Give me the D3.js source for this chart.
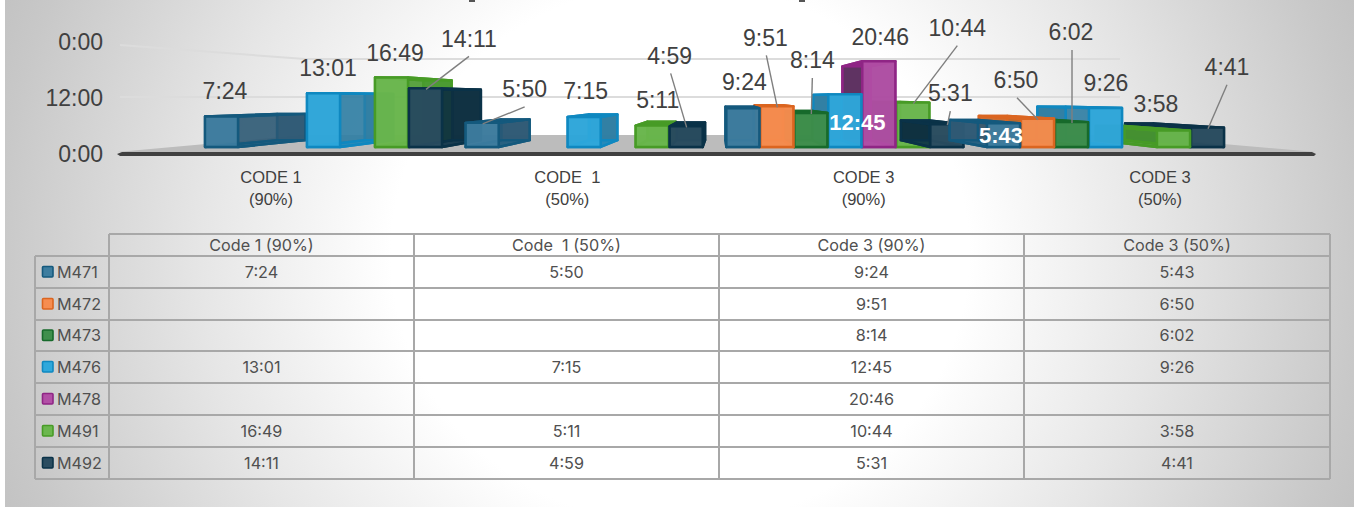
<!DOCTYPE html>
<html><head><meta charset="utf-8">
<script src="https://cdn.jsdelivr.net/npm/d3@7"></script>
<style>html,body{margin:0;padding:0;background:#fff;overflow:hidden}svg{display:block}</style>
</head><body><svg id="c" width="1354" height="508"></svg>
<script>
const groups = ["CODE 1|(90%)", "CODE  1|(50%)", "CODE 3|(90%)", "CODE 3|(50%)"];
const tableHeads = ["Code 1 (90%)", "Code  1 (50%)", "Code 3 (90%)", "Code 3 (50%)"];
const seriesNames = ["M471", "M472", "M473", "M476", "M478", "M491", "M492"];
const M471 = ["7:24", "5:50", "9:24", "5:43"];
const M472 = ["", "", "9:51", "6:50"];
const M473 = ["", "", "8:14", "6:02"];
const M476 = ["13:01", "7:15", "12:45", "9:26"];
const M478 = ["", "", "20:46", ""];
const M491 = ["16:49", "5:11", "10:44", "3:58"];
const M492 = ["14:11", "4:59", "5:31", "4:41"];
const seriesValues = [M471, M472, M473, M476, M478, M491, M492];
const axisTicks = [0, 12, 24];
const axisTickLabels = ["0:00", "12:00", "0:00"];

// styling (front fill, edge, side shade)
const fronts = ["#3d7d9f", "#f68d50", "#3f8f4c", "#2ea8dc", "#b24fa6", "#6bb74e", "#2a4c60"];
const edges = ["#14597d", "#db6520", "#176a2b", "#0f88c0", "#8f2585", "#479b26", "#0a3248"];
const sides = ["#2f5a75", "#cf6a2c", "#1f7430", "#2f7ea3", "#5c3060", "#4a9a30", "#0e2f40"];
// manual data-label offsets from each bar's top centre, per series then group
const labelOffsets = [
  [[3,-26],[42,-34],[1,-26],[-3,12]],
  [null,null,[-12,-69],[-22,-39]],
  [null,null,[1,-53],[-1,-90]],
  [[4,-26],[1,-26],[12,28],[0,-25]],
  [null,null,[1,-25],null],
  [[3,-25],[5,-26],[44,-75],[-18,-27]],
  [[43,-50],[-17,-71],[3,-31],[19,-61]]
];
const whiteLabels = ["12:45", "5:43"];
// painter's order of series indices within each group
const drawOrder = [[0,1,2,3,4,5,6],[0,1,2,3,4,5,6],[5,6,4,3,2,1,0],[6,5,4,3,2,1,0]];

const toHours = s => { const [h, m] = s.split(":").map(Number); return h + m / 60; };
const svg = d3.select("#c");
const W = 1354, H = 508;
const LABEL_FONT = "'Liberation Sans', Arial, sans-serif";
const TABLE_FONT = "'Inter', 'Open Sans', sans-serif";
const TXT = "#404040";

// background
const defs = svg.append("defs");
const rg = defs.append("radialGradient").attr("id", "bg").attr("gradientUnits", "userSpaceOnUse")
  .attr("cx", 680).attr("cy", 254).attr("r", 1)
  .attr("gradientTransform", "translate(680 254) scale(760 715) translate(-680 -254)");
[[0.0,"#ffffff"],[0.38,"#ffffff"],[0.63,"#e6e6e6"],[0.9,"#c8c8c8"],[1,"#bfbfbf"]].forEach(([o,c]) =>
  rg.append("stop").attr("offset", o).attr("stop-color", c));
svg.append("rect").attr("x", 5).attr("y", 0).attr("width", W - 5).attr("height", H - 1).attr("fill", "url(#bg)");

// clipped remains of the cropped title
svg.append("g").selectAll("rect").data([469, 799]).join("rect")
  .attr("x", d => d).attr("y", 0).attr("width", 6).attr("height", 2).attr("fill", "#555");

// scales
const xGroup = d3.scaleBand().domain(d3.range(4)).range([205, 1225]).paddingInner(0.087);
const xSeries = d3.scaleBand().domain(d3.range(7)).range([0, xGroup.bandwidth()]);
const xLabel = d3.scalePoint().domain(d3.range(4)).range([271, 1160]);
const y = d3.scaleLinear().domain([0, 24]).range([147, 147 - 24 * 4.13]);
const yAxis = d3.scaleLinear().domain([0, 24]).range([154, 42]);
const yWall = d3.scaleLinear().domain([0, 24]).range([135, 59]);
const yWallFront = d3.scaleLinear().domain([0, 24]).range([150, 45]);

// perspective projection toward the vanishing point
const VX = 720, VY = 98, S = 0.86;
const back = ([px, py]) => [VX + (px - VX) * S, VY + (py - VY) * S];

// walls & floor
const wall = svg.append("g");
[12, 24].forEach(t => {
  wall.append("path").attr("fill", "none").attr("stroke", "#dcdcdc").attr("stroke-width", 2)
    .attr("d", d3.line()([[120, t === 24 ? yWallFront(t) : yWall(t)], [305, yWall(t)], [1120, yWall(t)]]));
});
svg.append("path").attr("fill", "#bcbcbc").attr("d", d3.line()([[117, 152], [305, 135], [1120, 135], [1316, 152]]) + "Z");
svg.append("path").attr("fill", "#404040").attr("d", d3.line()([[117, 154], [122, 152], [1312, 152], [1316, 154], [1314, 156], [120, 156]]) + "Z");

// axis labels
svg.append("g").selectAll("text").data(axisTicks).join("text")
  .attr("x", 103).attr("y", d => yAxis(d)).attr("dy", "0.36em").attr("text-anchor", "end")
  .attr("font-family", LABEL_FONT).attr("font-size", 23).attr("fill", TXT)
  .text((d, i) => axisTickLabels[i]);

// category labels
const cat = svg.append("g").selectAll("text").data(groups).join("text")
  .attr("text-anchor", "middle").attr("font-family", LABEL_FONT).attr("font-size", 16.5).attr("fill", TXT);
cat.each(function (d, i) {
  const parts = d.split("|");
  d3.select(this).selectAll("tspan").data(parts).join("tspan")
    .attr("x", xLabel(i)).attr("y", (p, k) => 183 + k * 22).style("white-space", "pre").text(p => p);
});

// bars
const bars = svg.append("g");
const leaders = svg.append("g");
const labels = svg.append("g");
const poly = pts => d3.line()(pts) + "Z";
function drawBar(g, s) {
  const txt = seriesValues[s][g];
  if (!txt) return;
  const v = toHours(txt);
  const x0 = xGroup(g) + xSeries(s), x1 = x0 + xSeries.bandwidth() - 1;
  const t = y(v), b = y(0);
  const fTL = [x0, t], fTR = [x1, t], fBL = [x0, b], fBR = [x1, b];
  const [bTL, bTR, bBL, bBR] = [fTL, fTR, fBL, fBR].map(back);
  const el = bars.append("g").attr("stroke", edges[s]).attr("stroke-width", 2.4).attr("stroke-linejoin", "round");
  el.append("path").attr("d", poly([bTL, bTR, bBR, bBL])).attr("fill", sides[s]).attr("fill-opacity", 0.95);
  el.append("path").attr("d", poly([fTL, bTL, bBL, fBL])).attr("fill", sides[s]).attr("fill-opacity", 0.7);
  el.append("path").attr("d", poly([fTR, bTR, bBR, fBR])).attr("fill", sides[s]).attr("fill-opacity", 0.7);
  el.append("path").attr("d", poly([fTL, fTR, bTR, bTL])).attr("fill", edges[s]);
  el.append("path").attr("d", poly([fBL, fBR, bBR, bBL])).attr("fill", edges[s]).attr("fill-opacity", 0.7);
  el.append("path").attr("d", poly([fTL, fTR, fBR, fBL])).attr("fill", fronts[s]).attr("fill-opacity", 0.93);
}
drawOrder.forEach((ord, g) => ord.forEach(s => drawBar(g, s)));

// data labels and leader lines
seriesValues.forEach((vals, s) => vals.forEach((txt, g) => {
  if (!txt) return;
  const off = labelOffsets[s][g];
  const cx = xGroup(g) + xSeries(s) + xSeries.bandwidth() / 2;
  const top = y(toHours(txt));
  const lx = cx + off[0], ly = top + off[1];
  const white = whiteLabels.includes(txt);
  if (off[1] < -28) {
    leaders.append("line").attr("x1", lx + (off[0] > 0 ? 0 : 1)).attr("y1", ly + 18).attr("x2", cx).attr("y2", top + 1)
      .attr("stroke", "#7f7f7f").attr("stroke-width", 1.4);
  }
  labels.append("text").attr("x", lx).attr("y", ly).attr("dy", "0.36em").attr("text-anchor", "middle")
    .attr("font-family", LABEL_FONT).attr("font-size", white ? 22 : 23)
    .attr("font-weight", white ? "bold" : "normal").attr("fill", white ? "#fff" : TXT).text(txt);
}));

// data table
const colX = [109, 414, 719, 1024, 1330];
const rowY = [234, 256, 288, 320, 351, 383, 415, 447, 479];
const tbl = svg.append("g");
const LINE = "#a8a8a8";
const TBL_TXT = "#505050";
const hline = (x1, x2, yy) => tbl.append("line").attr("x1", x1).attr("x2", x2).attr("y1", yy).attr("y2", yy).attr("stroke", LINE).attr("stroke-width", 2);
const vline = (xx, y1, y2) => tbl.append("line").attr("x1", xx).attr("x2", xx).attr("y1", y1).attr("y2", y2).attr("stroke", LINE).attr("stroke-width", 2);
rowY.forEach((yy, i) => hline(i === 0 ? 109 : 35, 1330, yy));
colX.forEach(xx => vline(xx, 234, 479));
vline(35, 256, 479);
const TS = 16.2;
tableHeads.forEach((h, i) => tbl.append("text").attr("x", (colX[i] + colX[i + 1]) / 2).attr("y", 245).attr("dy", "0.36em")
  .attr("text-anchor", "middle").attr("font-family", TABLE_FONT).attr("font-size", TS).attr("fill", TBL_TXT).style("white-space", "pre").text(h));
seriesNames.forEach((n, r) => {
  const cy = (rowY[r + 1] + rowY[r + 2]) / 2;
  tbl.append("rect").attr("x", 42.5).attr("y", cy - 5.5).attr("width", 10.5).attr("height", 10.5).attr("rx", 1)
    .attr("fill", fronts[r]).attr("stroke", edges[r]).attr("stroke-width", 1.6);
  tbl.append("text").attr("x", 57).attr("y", cy).attr("dy", "0.36em").attr("font-family", TABLE_FONT).attr("font-size", TS).attr("fill", TBL_TXT).text(n);
  seriesValues[r].forEach((v, c) => {
    tbl.append("text").attr("x", (colX[c] + colX[c + 1]) / 2).attr("y", cy).attr("dy", "0.36em")
      .attr("text-anchor", "middle").attr("font-family", TABLE_FONT).attr("font-size", TS).attr("fill", TBL_TXT).text(v);
  });
});
</script></body></html>
